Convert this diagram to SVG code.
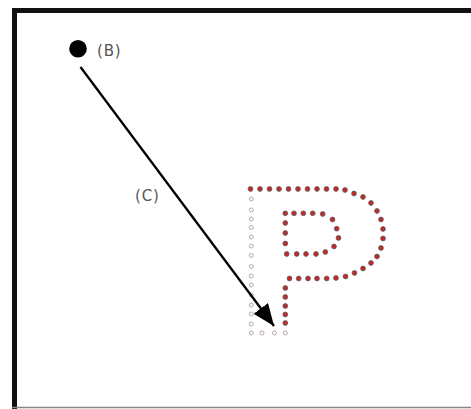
<svg xmlns="http://www.w3.org/2000/svg" xmlns:xlink="http://www.w3.org/1999/xlink" width="471" height="409" viewBox="0 0 471 409">
<style>
.lbl{font-family:"DejaVu Sans",sans-serif;font-size:15px;fill:#555;letter-spacing:0.8px}
.rd{fill:#c62828;stroke:#5a5a5a;stroke-width:0.8}
.gc{fill:none;stroke:#b49a9a;stroke-width:0.9}
</style>
<defs>
<marker id="ah" markerUnits="userSpaceOnUse" markerWidth="24" markerHeight="18" refX="22" refY="9" orient="auto">
<path d="M0,0 L22,9 L0,18 z" fill="#000"/>
</marker>
<circle id="r" r="2.4" class="rd"/>
<circle id="g" r="2" class="gc"/>
</defs>
<rect width="471" height="409" fill="#fff"/>
<g id="frame">
<rect x="12" y="8" width="459" height="5" fill="#111"/>
<rect x="12" y="8" width="5" height="401" fill="#111"/>
<line x1="12" y1="407.5" x2="471" y2="407.5" stroke="#888" stroke-width="1.5"/>
</g>
<g id="outline">
<use href="#g" x="251.3" y="199"/><use href="#g" x="251.3" y="210"/><use href="#g" x="251.3" y="219"/><use href="#g" x="251.3" y="227.5"/><use href="#g" x="251.3" y="237"/><use href="#g" x="251.3" y="246"/><use href="#g" x="251.3" y="255.5"/><use href="#g" x="251.3" y="266.5"/><use href="#g" x="251.3" y="276"/><use href="#g" x="251.3" y="285"/><use href="#g" x="251.3" y="295"/><use href="#g" x="251.3" y="305"/><use href="#g" x="251.3" y="314"/><use href="#g" x="251.3" y="324"/><use href="#g" x="251.3" y="333"/>
<use href="#g" x="262" y="333"/><use href="#g" x="274.5" y="333"/><use href="#g" x="285.3" y="333"/>
</g>
<g id="P">
<use href="#r" x="250.5" y="189"/><use href="#r" x="260" y="189"/><use href="#r" x="269.5" y="189"/><use href="#r" x="279" y="189"/><use href="#r" x="288.5" y="189"/><use href="#r" x="298" y="189"/><use href="#r" x="307.5" y="189"/><use href="#r" x="317" y="189"/><use href="#r" x="326.5" y="189"/><use href="#r" x="336" y="189"/><use href="#r" x="345" y="190"/>
<use href="#r" x="354" y="193.5"/><use href="#r" x="363" y="197"/><use href="#r" x="371" y="203"/><use href="#r" x="377" y="211"/><use href="#r" x="381" y="219.5"/><use href="#r" x="383" y="229"/><use href="#r" x="383" y="238.5"/><use href="#r" x="381" y="248"/><use href="#r" x="377" y="256.5"/><use href="#r" x="371" y="263"/><use href="#r" x="363" y="268.5"/><use href="#r" x="354.5" y="273"/><use href="#r" x="345.5" y="276.5"/><use href="#r" x="336" y="278"/>
<use href="#r" x="326.7" y="278.5"/><use href="#r" x="317" y="278.5"/><use href="#r" x="308" y="278.5"/><use href="#r" x="298.7" y="278.5"/><use href="#r" x="289.5" y="278.5"/>
<use href="#r" x="285.3" y="288"/><use href="#r" x="285.3" y="297"/><use href="#r" x="285.3" y="306"/><use href="#r" x="285.3" y="314.5"/><use href="#r" x="285.3" y="323"/>
<use href="#r" x="285.3" y="213.3"/><use href="#r" x="294" y="213.3"/><use href="#r" x="303.3" y="213.3"/><use href="#r" x="312.7" y="213.3"/><use href="#r" x="322.7" y="214"/>
<use href="#r" x="332.5" y="219.5"/><use href="#r" x="336.7" y="228.7"/><use href="#r" x="338.5" y="238"/><use href="#r" x="334" y="246.5"/><use href="#r" x="325.3" y="252"/>
<use href="#r" x="316" y="254"/><use href="#r" x="306" y="254"/><use href="#r" x="296.7" y="254"/><use href="#r" x="286.7" y="254"/>
<use href="#r" x="285.3" y="223"/><use href="#r" x="285.3" y="233"/><use href="#r" x="285.3" y="243.5"/>
</g>
<g id="B">
<circle cx="78" cy="48.8" r="8.8" fill="#000"/>
<text class="lbl" x="97" y="56">(B)</text>
</g>
<g id="connectors">
<line x1="80.5" y1="67" x2="274" y2="326" stroke="#000" stroke-width="2.3" marker-end="url(#ah)"/>
</g>
<g id="C">
<text class="lbl" x="135" y="201">(C)</text>
</g>
</svg>
